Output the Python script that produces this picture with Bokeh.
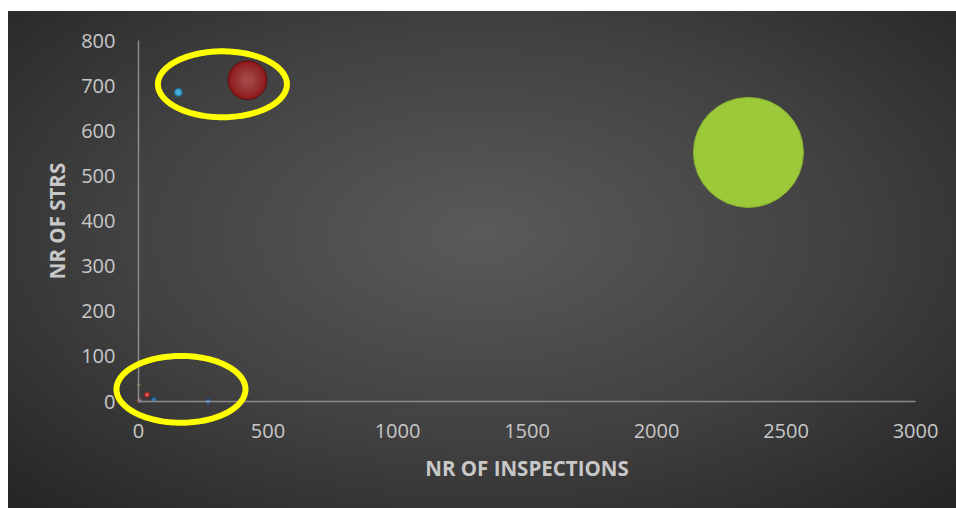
import numpy as np
from bokeh.plotting import figure
from bokeh.models import ColumnDataSource, PolyAnnotation, Range1d
from bokeh.embed import file_html
from bokeh.resources import INLINE

# --- data ---
inspections = [2355, 421, 154, 33, 59, 269, 5, 8, 1]
strs = [552, 712, 685, 15, 4, 0, 2, 1, 37]
bubble_value = [2400, 300, 12, 5, 6, 5, 5, 4, 1]
bubble_color = ["#9bc93a", "#8e1b1b", "#2a9fd0", "#d23a3a", "#1f5e9e",
                "#2f6fb0", "#e07b24", "#5e3f86", "#7ca32e"]
edge_color = ["#86b030", "#5e1010", "#1c6f93", "#8f2020", "#143f6a",
              "#1f4b78", "#9a5216", "#3e2a5a", "#5a7a20"]

# annotation ellipses (data coordinates)
ell_x = [324, 164]
ell_y = [703, 27]
ell_w = [498, 498]
ell_h = [146, 148]

x_ticks = [0, 500, 1000, 1500, 2000, 2500, 3000]
y_ticks = [0, 100, 200, 300, 400, 500, 600, 700, 800]
x_axis_range = (0, 3000)
y_axis_range = (0, 800)

# layout: axis area in page pixels (plot origin, extent)
W, H = 956, 508
ox, oy = 138, 401          # pixel position of data (0, 0)
sx = 777 / 3000            # px per x unit
sy = 361 / 800             # px per y unit

max_d = 110.0
diam = [max_d * np.sqrt(v / max(bubble_value)) for v in bubble_value]

src = ColumnDataSource(dict(x=inspections, y=strs, d=diam,
                            c=bubble_color, e=edge_color))

p = figure(width=W, height=H,
           x_range=Range1d(-ox / sx, (W - ox) / sx),
           y_range=Range1d(-(H - oy) / sy, oy / sy),
           output_backend="svg", toolbar_location=None, min_border=0)

p.background_fill_color = None
p.border_fill_color = None
p.outline_line_color = None
p.styles = {
    "background-color": "#ffffff",
    "background-image": "radial-gradient(ellipse 70% 75% at 50% 45%, #5a5a5a 0%, #414141 55%, #262626 100%)",
    "background-position": "8px 11px",
    "background-size": "948px 497px",
    "background-repeat": "no-repeat",
}

p.xgrid.visible = False
p.ygrid.visible = False

p.xaxis.fixed_location = 0
p.yaxis.fixed_location = 0
p.xaxis.bounds = x_axis_range
p.yaxis.bounds = y_axis_range

for ax in (p.xaxis, p.yaxis):
    ax.axis_line_color = "#8a8a8a"
    ax.axis_line_width = 1.5
    ax.major_tick_line_color = None
    ax.minor_tick_line_color = None
    ax.major_label_text_color = "#c8c8c8"
    ax.major_label_text_font = "Open Sans"
    ax.major_label_text_font_size = "20px"
    ax.axis_label_text_color = "#c8c8c8"
    ax.axis_label_text_font = "Open Sans"
    ax.axis_label_text_font_style = "bold"
    ax.axis_label_text_font_size = "20.5px"

p.xaxis.ticker = x_ticks
p.yaxis.ticker = y_ticks
p.xaxis.major_label_standoff = 16
p.yaxis.major_label_standoff = 17
p.xaxis.axis_label = "NR OF INSPECTIONS"
p.yaxis.axis_label = "NR OF STRS"
p.xaxis.axis_label_standoff = 13
p.yaxis.axis_label_standoff = 7

p.scatter("x", "y", size="d", source=src, fill_color="c", line_color="e",
          line_width=1, marker="circle")

# soft shading on the smaller bubbles (not the green one)
sub_x, sub_y, sub_d = inspections[1:], strs[1:], diam[1:]
for k in range(1, 7):
    f = 1 - 0.12 * k
    p.scatter(sub_x, sub_y, size=[v * f for v in sub_d], fill_color="#ffffff",
              fill_alpha=0.035, line_color=None, marker="circle")

t = np.linspace(0, 2 * np.pi, 160)
for cx, cy, w, h in zip(ell_x, ell_y, ell_w, ell_h):
    xs = list(cx + w / 2 * np.cos(t))
    ys = list(cy + h / 2 * np.sin(t))
    p.add_layout(PolyAnnotation(xs=xs, ys=ys, fill_color=None, fill_alpha=0,
                                line_color="#ffff00", line_alpha=1.0,
                                line_width=6, level="overlay"))

open("out.html", "w").write(file_html(p, INLINE))
